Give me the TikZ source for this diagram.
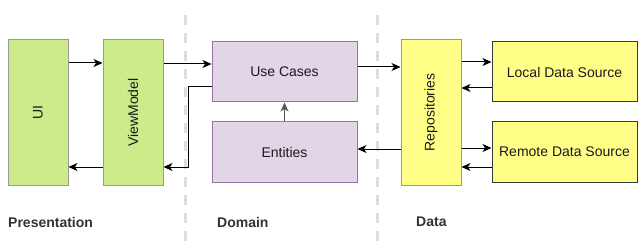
\documentclass[tikz,border=0pt]{standalone}
\usepackage{fontspec}
\setmainfont{Liberation Sans}
\usepackage{xcolor}
\usetikzlibrary{arrows.meta}
\definecolor{vmgreen}{HTML}{CDEB8B}
\definecolor{domfill}{HTML}{E1D5E7}
\definecolor{domline}{HTML}{9673A6}
\definecolor{datfill}{HTML}{FFFF88}
\definecolor{datline}{HTML}{36393D}
\definecolor{sepgray}{HTML}{DDDDDD}
\definecolor{txt}{HTML}{1A1A1A}

\begin{document}
\begin{tikzpicture}[x=1pt, y=-1pt, >={Stealth[length=9pt,width=8pt,inset=2.5pt]},
		font=\fontsize{14}{16}\selectfont, text=txt,
		tall/.style={draw=gray!80, line width=1pt, fill=vmgreen, minimum width=60pt, minimum height=145pt, inner sep=0pt},
		wide/.style={draw=domline, line width=1pt, fill=domfill, minimum width=145pt, minimum height=60pt, inner sep=0pt},
		arr/.style={->, black, line width=1pt}]
			\useasboundingbox (0,0) rectangle (638,246);
			
			% 分隔虚线
			\draw[sepgray, line width=3pt, dash pattern=on 10pt off 8pt] (185,15) -- (185,246);
			\draw[sepgray, line width=3pt, dash pattern=on 10pt off 8pt] (377,15) -- (377,246);
			
			% 表现层
			\node[tall] (ui) at (38,112.5) {\rotatebox{90}{UI}};
			\node[tall] (vm) at (133,112.5) {\rotatebox{90}{ViewModel}};
			
			% 领域层
			\node[wide] (uc) at (284.5,72) {Use Cases};
			\node[wide] (ent) at (284.5,152) {Entities};
			
			% 数据层
			\node[tall, fill=datfill] (repo) at (431,112.5) {\rotatebox{90}{Repositories}};
			\node[wide, draw=datline, fill=datfill] (local) at (564.5,72) {Local Data Source};
			\node[wide, draw=datline, fill=datfill] (remote) at (564.5,152) {Remote Data Source};
			
			% 层名
			\node[anchor=west, inner sep=0pt, font=\fontsize{14}{16}\selectfont\bfseries, text=black!80] (lp) at (8,222) {Presentation};
			\node[anchor=west, inner sep=0pt, font=\fontsize{14}{16}\selectfont\bfseries, text=black!80] (ld) at (217,222) {Domain};
			\node[anchor=west, inner sep=0pt, font=\fontsize{14}{16}\selectfont\bfseries, text=black!80] (la) at (416,222) {Data};
			
			% 连线
			\draw[arr] (ui.east |- 0,63) -- (vm.west |- 0,63);
			\draw[arr] (vm.west |- 0,167) -- (ui.east |- 0,167);
			\draw[arr] (vm.east |- 0,64) -- (uc.west |- 0,64);
			\draw[arr] (uc.west |- 0,87) -- (188,87) |- (vm.east |- 0,167);
			\draw[arr] (uc.east |- 0,67) -- (repo.west |- 0,67);
			\draw[arr] (repo.west |- 0,149) -- (ent.east |- 0,149);
			\draw[arr, gray!70!black] (ent.north) -- (uc.south);
			\draw[arr] (repo.east |- 0,62) -- (local.west |- 0,62);
			\draw[arr] (local.west |- 0,88) -- (repo.east |- 0,88);
			\draw[arr] (repo.east |- 0,148) -- (remote.west |- 0,148);
			\draw[arr] (remote.west |- 0,167) -- (repo.east |- 0,167);
		\end{tikzpicture}
\end{document}
